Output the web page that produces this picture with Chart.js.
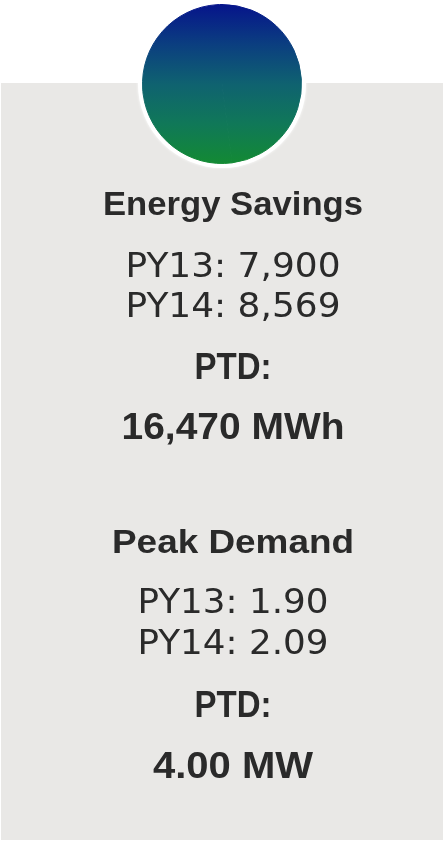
<!DOCTYPE html>
<html>
<head>
<meta charset="utf-8">
<script src="https://cdn.jsdelivr.net/npm/chart.js@4.4.1/dist/chart.umd.min.js"></script>
<style>
  html, body { margin: 0; padding: 0; background: #ffffff; overflow: hidden; }
  canvas { display: block; }
</style>
</head>
<body>
<canvas id="c" width="444" height="841"></canvas>
<script>
// ---- data ----
const years = ['PY13', 'PY14'];
const energySavings = [7900, 8569];     // MWh
const energyPTD = [16470];              // MWh
const peakDemand = [1.90, 2.09];        // MW
const demandPTD = [4.00];               // MW
const sectionTitles = ['Energy Savings', 'Peak Demand'];
const units = ['MWh', 'MW'];
const ptdLabel = 'PTD:';

// ---- text content built from the data ----
const fmtInt = v => v.toLocaleString('en-US');
const fmt2 = v => v.toFixed(2);

const TITLE = 'bold 33.5px "Liberation Sans", Arial, sans-serif';
const BOLD = 'bold 36px "Liberation Sans", Arial, sans-serif';
const REG = '34px "DejaVu Sans", sans-serif';
const TEXT_X = 233;
const lines = [
  { text: sectionTitles[0], y: 215, w: 260, font: TITLE },
  { text: years[0] + ': ' + fmtInt(energySavings[0]), y: 277, w: 215, font: REG },
  { text: years[1] + ': ' + fmtInt(energySavings[1]), y: 317, w: 215, font: REG },
  { text: ptdLabel, y: 379, w: 77, font: BOLD },
  { text: fmtInt(energyPTD[0]) + ' ' + units[0], y: 439, w: 223, font: BOLD },
  { text: sectionTitles[1], y: 553, w: 242, font: TITLE },
  { text: years[0] + ': ' + fmt2(peakDemand[0]), y: 613, w: 191, font: REG },
  { text: years[1] + ': ' + fmt2(peakDemand[1]), y: 654, w: 191, font: REG },
  { text: ptdLabel, y: 717, w: 77, font: BOLD },
  { text: fmt2(demandPTD[0]) + ' ' + units[1], y: 778, w: 160, font: BOLD }
];

let grad = null;
function circleGradient(context) {
  const chart = context.chart;
  const ca = chart.chartArea;
  if (!ca) return '#0e6670';
  if (!grad) {
    const g = chart.ctx.createLinearGradient(0, ca.top, 0, ca.bottom);
    g.addColorStop(0, '#06148b');
    g.addColorStop(0.25, '#0b3e80');
    g.addColorStop(0.5, '#0f6270');
    g.addColorStop(0.75, '#107858');
    g.addColorStop(1, '#138a33');
    grad = g;
  }
  return grad;
}

const infographic = {
  id: 'infographic',
  beforeDraw(chart) {
    const ctx = chart.ctx;
    ctx.save();
    ctx.fillStyle = '#ffffff';
    ctx.fillRect(0, 0, chart.width, chart.height);
    ctx.fillStyle = '#e9e8e6';
    ctx.fillRect(1, 83, chart.width - 2, chart.height - 84);
    ctx.restore();
  },
  beforeDatasetsDraw(chart) {
    const arc = chart.getDatasetMeta(0).data[0];
    if (!arc) return;
    const ctx = chart.ctx;
    ctx.save();
    ctx.fillStyle = '#ffffff';
    ctx.shadowColor = 'rgba(255,255,255,0.9)';
    ctx.shadowBlur = 3;
    ctx.beginPath();
    ctx.arc(arc.x, arc.y, arc.outerRadius + 4.5, 0, Math.PI * 2);
    ctx.fill();
    ctx.restore();
  },
  afterDraw(chart) {
    const ctx = chart.ctx;
    ctx.save();
    ctx.fillStyle = '#2a2a2a';
    ctx.textAlign = 'center';
    ctx.textBaseline = 'alphabetic';
    lines.forEach(l => {
      ctx.font = l.font;
      const natural = ctx.measureText(l.text).width;
      const s = l.w / natural;
      ctx.save();
      ctx.translate(TEXT_X, l.y);
      ctx.scale(s, 1);
      ctx.fillText(l.text, 0, 0);
      ctx.restore();
    });
    ctx.restore();
  }
};

new Chart(document.getElementById('c'), {
  type: 'pie',
  data: {
    labels: years,
    datasets: [{
      data: energySavings,
      backgroundColor: circleGradient,
      borderColor: circleGradient,
      borderWidth: 1,
      hoverOffset: 0,
      offset: 0
    }]
  },
  options: {
    responsive: false,
    animation: false,
    events: [],
    layout: { padding: { left: 142, right: 142, top: 4, bottom: 677 } },
    plugins: {
      legend: { display: false },
      tooltip: { enabled: false },
      title: { display: false }
    }
  },
  plugins: [infographic]
});
</script>
</body>
</html>
